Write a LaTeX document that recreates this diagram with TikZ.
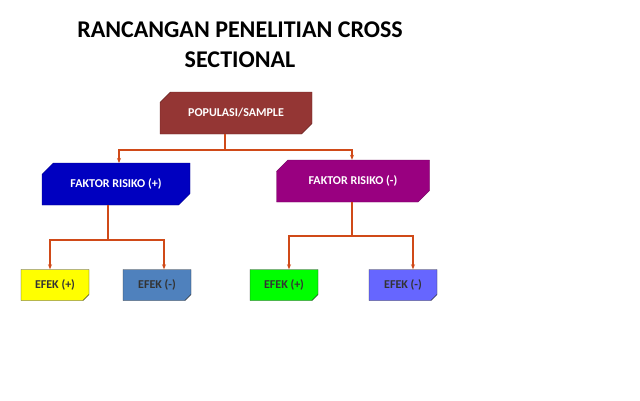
\documentclass[tikz,border=0pt]{standalone}
\usepackage{fontspec}
\setmainfont{Carlito}
\usetikzlibrary{shapes.misc,arrows.meta}
\definecolor{pop}{HTML}{943634}
\definecolor{fplus}{HTML}{0000C0}
\definecolor{fmin}{HTML}{990080}
\definecolor{eplus}{HTML}{FFFF00}
\definecolor{emin}{HTML}{4F81BD}
\definecolor{egreen}{HTML}{00FF00}
\definecolor{eblue}{HTML}{6666FF}
\definecolor{link}{HTML}{D04A18}
\tikzset{
 bigbox/.style={chamfered rectangle, chamfered rectangle corners={north west,south east}, chamfered rectangle xsep=6pt, chamfered rectangle ysep=6pt, draw=#1!70!black, fill=#1, text=white, font=\bfseries\fontsize{12}{14}\selectfont, minimum height=42pt, inner sep=0pt},
 effbox/.style={chamfered rectangle, chamfered rectangle corners={south east}, chamfered rectangle xsep=3pt, chamfered rectangle ysep=3pt, draw=black!80, fill=#1, text=black!80, font=\bfseries\fontsize{12}{14}\selectfont, minimum height=31pt, minimum width=68pt, inner sep=0pt},
 conn/.style={draw=link, line width=1.3pt, -{Stealth[length=5pt,width=4pt]}},
 title/.style={font=\bfseries\fontsize{24}{28}\selectfont, align=center}
}
\begin{document}
\begin{tikzpicture}[x=1pt,y=-1pt]
\useasboundingbox (0,0) rectangle (640,400);
\node[title] (t1) at (240,30) {RANCANGAN PENELITIAN CROSS};
\node[title] (t2) at (240,60) {SECTIONAL};
\node[bigbox=pop, minimum width=152pt] (pop) at (236,113) {POPULASI/SAMPLE};
\node[bigbox=fplus, minimum width=148pt] (fp) at (116,184) {FAKTOR RISIKO (+)};
\node[bigbox=fmin, minimum width=153pt] (fm) at (353,181) {FAKTOR RISIKO (-)};
\node[effbox=eplus] (e1) at (55,285) {EFEK (+)};
\node[effbox=emin] (e2) at (157,285) {EFEK (-)};
\node[effbox=egreen] (e3) at (284,285) {EFEK (+)};
\node[effbox=eblue] (e4) at (403,285) {EFEK (-)};
\coordinate (j1) at (225,150);
\coordinate (j2) at (108,240);
\coordinate (j3) at (352,236);
\draw[draw=link, line width=1.3pt] (pop.south -| j1) -- (j1);
\draw[conn] (j1) -| (119,163);
\draw[conn] (j1) -| (fm.north -| 352,0);
\draw[draw=link, line width=1.3pt] (fp.south -| j2) -- (j2);
\draw[conn] (j2) -| (e1.north -| 50,0);
\draw[conn] (j2) -| (e2.north -| 164,0);
\draw[draw=link, line width=1.3pt] (fm.south -| j3) -- (j3);
\draw[conn] (j3) -| (e3.north -| 289,0);
\draw[conn] (j3) -| (e4.north -| 413,0);
\end{tikzpicture}
\end{document}
